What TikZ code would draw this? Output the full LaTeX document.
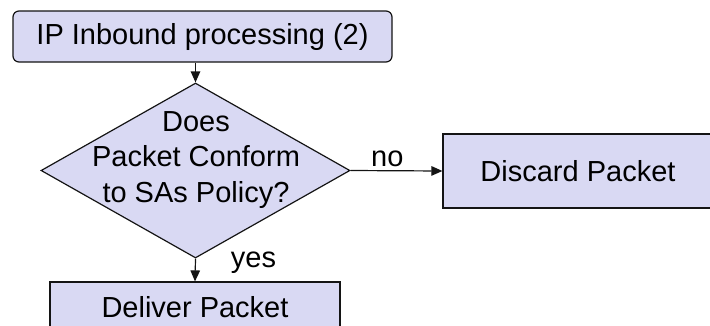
\documentclass[tikz,border=0pt]{standalone}
\usepackage{fontspec}
\setmainfont{Liberation Sans}
\usetikzlibrary{arrows.meta,positioning,shapes.geometric}
\definecolor{boxColor}{HTML}{D9D9F3}
\definecolor{lineColor}{HTML}{141414}
\tikzset{process box/.style={draw=lineColor, fill=boxColor, line width=1.2pt, inner sep=0pt}}
\tikzset{decision box/.style={process box, shape=diamond, minimum width=309pt, minimum height=175pt}}
\tikzset{flow label/.style={font=\fontsize{29}{35.5}\selectfont, text=black}}

\begin{document}
\begin{tikzpicture}[->,>={Triangle[length=11pt,width=9.5pt]},x=1pt,y=-1pt,
					line width=1.2pt, flow label]
					\clip (0,0) rectangle (710,325);
					\node[process box, rounded corners=6pt, minimum width=379pt, minimum height=51pt] at (202.5,36.5) (ipin) {IP Inbound processing (2)};
					\node[decision box] at (195.5,170.5) (check) {};
					\node[align=center, inner sep=0pt] at (196,160) (check_txt) {Does\\Packet Conform\\to SAs Policy?};
					\node[process box, minimum width=270pt, minimum height=74pt] at (578,171) (discard) {Discard Packet};
					\node[process box, minimum width=290pt, minimum height=50pt] at (195,307) (deliver) {Deliver Packet};
					\coordinate (ipin_out) at (ipin.south -| check.north);
					\path (ipin_out) edge[lineColor] (check.north);
					\path (check.east) edge[lineColor] node[pos=0.4, above, text=black] {no} (discard.west);
					% yes sits to the right, near the top of the arrow
					\path (check.south) edge[lineColor] node[pos=0.4, anchor=base west, inner sep=0pt, xshift=35pt, text=black] {yes} (deliver.north);
				\end{tikzpicture}
\end{document}
